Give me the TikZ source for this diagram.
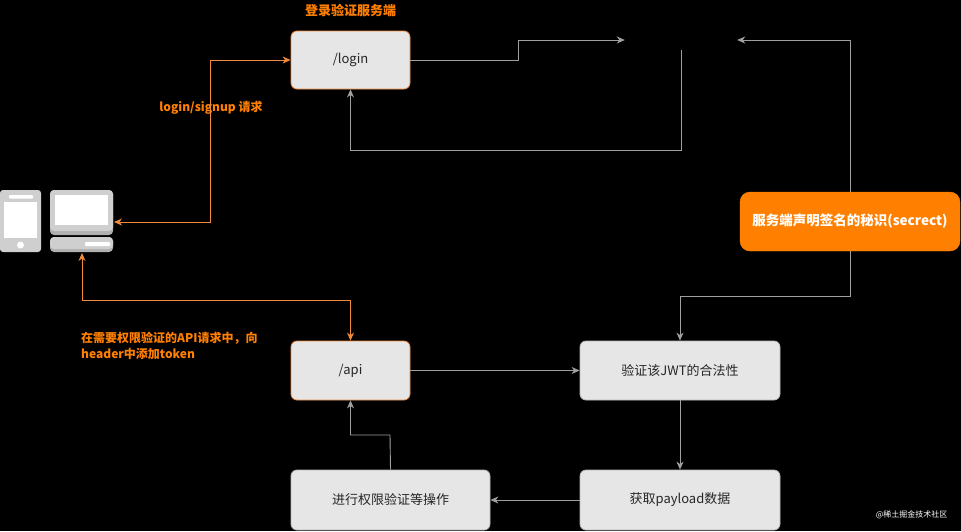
\documentclass[tikz,border=0pt]{standalone}
\usepackage{fontspec}
\setmainfont{Noto Sans CJK SC}
\usetikzlibrary{arrows.meta}
\definecolor{boxfill}{HTML}{E6E6E6}
\definecolor{boxline}{HTML}{B8B8B8}
\definecolor{gline}{HTML}{A0A0A0}
\definecolor{org}{HTML}{FF8000}
\definecolor{oline}{HTML}{F08A3C}
\definecolor{icong}{HTML}{CFCFCF}
\begin{document}
\begin{tikzpicture}[x=1pt,y=-1pt,
  tip/.tip={Stealth[length=8pt,width=7pt,inset=2.5pt]},
  box/.style={draw=boxline,fill=boxfill,rounded corners=6pt,line width=0.8pt,font=\fontsize{13}{15}\selectfont,text=black!85},
  obox/.style={box,draw=oline},
  garr/.style={draw=gline,line width=0.9pt,-tip},
  oarr/.style={draw=oline,line width=0.9pt,tip-tip},
  olabel/.style={text=org,font=\fontsize{12}{14}\selectfont\bfseries}
]
\fill[black] (0,0) rectangle (961,531);
\useasboundingbox (0,0) rectangle (961,531);

% nodes
\node[obox,minimum width=119pt,minimum height=58pt] (login) at (350.5,60) {/login};
\node[olabel,font=\fontsize{13}{15}\selectfont\bfseries] (title) at (350.5,10) {登录验证服务端};
\node[minimum width=112pt,minimum height=20pt,inner sep=0pt] (jwt) at (681,40) {};
\node[draw=org,fill=org,rounded corners=10pt,minimum width=220pt,minimum height=59pt,text=white,font=\fontsize{13.5}{15}\selectfont\bfseries] (sec) at (850,221.5) {服务端声明签名的秘识(secrect)};
\node[obox,minimum width=119pt,minimum height=59pt] (api) at (350.5,370.5) {/api};
\node[box,minimum width=200pt,minimum height=59pt] (verify) at (680,370.5) {验证该JWT的合法性};
\node[box,minimum width=200pt,minimum height=60pt] (payload) at (680,500) {获取payload数据};
\node[box,minimum width=199pt,minimum height=60pt] (ops) at (390.5,500) {进行权限验证等操作};
\node[olabel] (lbl1) at (211,108) {login/signup 请求};
\node[olabel,align=left,anchor=west,font=\fontsize{12}{16}\selectfont\bfseries,inner xsep=0pt] (lbl2) at (81,346) {在需要权限验证的API请求中，向\\header中添加token};
\node[text=white,font=\fontsize{8}{10}\selectfont,anchor=east] (wm) at (951,515) {@稀土掘金技术社区};

% computer icon
\fill[icong,rounded corners=3pt] (0,190) rectangle (41,252);
\fill[white] (4,202) rectangle (37,238);
\fill[white,rounded corners=1pt] (9,195) rectangle (33,198.5);
\fill[white] (20.5,245) circle (3.5);
\fill[icong!85!black,rounded corners=4pt] (50,190) rectangle (113,235);
\fill[icong,rounded corners=4pt] (50,190) rectangle (113,231);
\fill[white] (55,195) rectangle (108,225);
\fill[icong!85!black,rounded corners=4pt] (50,237) rectangle (113,252);
\fill[icong,rounded corners=4pt] (50,237) rectangle (113,249);
\fill[white,rounded corners=1pt] (85,242) rectangle (110,246);
\coordinate (pcR) at (114,222);
\coordinate (pcB) at (82,253);

% gray connectors
\draw[garr] (login.east) -- (518,60) -- (518,40) -- (jwt.west);
\draw[garr] (jwt.south) -- (681,150) -| (login.south);
\draw[garr] (sec.north) |- (jwt.east);
\draw[garr] (sec.south) -- (850,296) -| (verify.north);
\draw[garr] (api.east) -- (verify.west);
\draw[garr] (verify.south) -- (payload.north);
\draw[garr] (payload.west) -- (ops.east);
\draw[garr] (ops.north) -- (390,435) -| (api.south);

% orange connectors
\draw[oarr] (pcR) -- (210,222) |- (login.west);
\draw[oarr] (pcB) -- (82,300) -| (api.north);
\end{tikzpicture}
\end{document}
